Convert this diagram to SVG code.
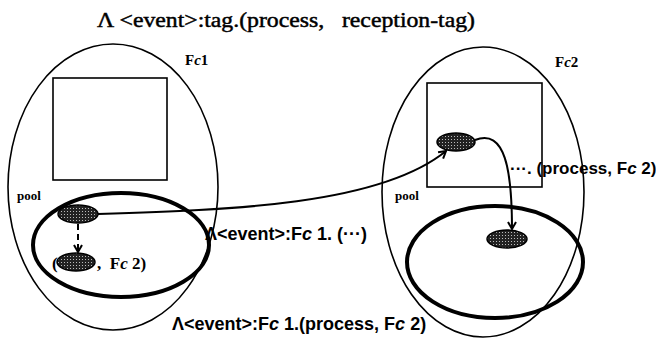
<svg xmlns="http://www.w3.org/2000/svg" width="656" height="339" viewBox="0 0 656 339">
<style>
.thin{fill:none;stroke:#000;stroke-width:1.6}
.thick{fill:none;stroke:#000;stroke-width:4}
.tok{fill:url(#dots);stroke:#000;stroke-width:1.5}
.conn{fill:none;stroke:#000;stroke-width:2}
.serif{font-family:"Liberation Serif","Times New Roman",serif;font-weight:bold;fill:#000}
.title{font-family:"Liberation Serif","Times New Roman",serif;font-weight:normal;fill:#000;stroke:#000;stroke-width:0.45;white-space:pre}
.sans{font-family:"Liberation Sans",Arial,sans-serif;font-weight:bold;fill:#000}
</style>
<defs>
<pattern id="dots" width="3" height="3" patternUnits="userSpaceOnUse">
<rect width="3" height="3" fill="#222"/>
<rect x="1" y="1" width="1" height="1" fill="#bbb"/>
</pattern>
<marker id="arr" markerWidth="10" markerHeight="10" refX="8" refY="5" orient="auto" markerUnits="userSpaceOnUse">
<path d="M1,1 L8,5 L1,9" fill="none" stroke="#000" stroke-width="2"/>
</marker>
</defs>
<rect width="656" height="339" fill="#fff"/>
<text class="title" x="97" y="27" font-size="20" xml:space="preserve" textLength="378" lengthAdjust="spacingAndGlyphs">Λ &lt;event&gt;:tag.(process,   reception-tag)</text>
<g id="fc1">
<ellipse class="thin" cx="113" cy="187" rx="105" ry="143"/>
<text class="serif" x="185" y="65" font-size="15">F<tspan font-style="italic">c</tspan>1</text>
</g>
<g id="fc1-process">
<rect class="thin" x="53" y="78" width="114" height="102"/>
</g>
<g id="fc1-pool">
<ellipse class="thick" cx="121" cy="245" rx="88" ry="52"/>
<text class="serif" x="17" y="200" font-size="13">pool</text>
</g>
<g id="fc1-event">
<ellipse class="tok" cx="78" cy="214" rx="20" ry="9"/>
</g>
<g id="fc1-event-copy">
<text class="serif" x="52" y="269" font-size="17">(</text>
<ellipse class="tok" cx="76" cy="262" rx="19" ry="9"/>
<text class="serif" x="97" y="269" font-size="17" xml:space="preserve">,  F<tspan font-style="italic">c</tspan> 2)</text>
</g>
<g id="fc2">
<ellipse class="thin" cx="483" cy="192" rx="101" ry="145"/>
<text class="serif" x="555" y="67" font-size="15">F<tspan font-style="italic">c</tspan>2</text>
</g>
<g id="fc2-process">
<rect class="thin" x="427" y="83" width="115" height="104"/>
</g>
<g id="fc2-event">
<ellipse class="tok" cx="456" cy="142" rx="19" ry="9"/>
</g>
<g id="fc2-pool">
<ellipse class="thick" cx="495" cy="262" rx="88" ry="56"/>
<text class="serif" x="395" y="200" font-size="13">pool</text>
</g>
<g id="fc2-event-copy">
<ellipse class="tok" cx="507" cy="239" rx="20" ry="9"/>
</g>
<g id="connectors">
<path class="conn" d="M78,224 L78,252" stroke-dasharray="6,4" marker-end="url(#arr)"/>
<path class="conn" d="M98,214 C230,210 380,205 446,151" marker-end="url(#arr)"/>
<path class="conn" d="M475,140 C505,128 512,170 512,229" marker-end="url(#arr)"/>
</g>
<text class="sans" x="205" y="240" font-size="18">Λ&lt;event&gt;:F<tspan font-style="italic">c</tspan> 1. (···)</text>
<text class="sans" x="510" y="174" font-size="17">···. (process, F<tspan font-style="italic">c</tspan> 2)</text>
<text class="sans" x="172" y="330" font-size="18">Λ&lt;event&gt;:F<tspan font-style="italic">c</tspan> 1.(process, F<tspan font-style="italic">c</tspan> 2)</text>
</svg>
